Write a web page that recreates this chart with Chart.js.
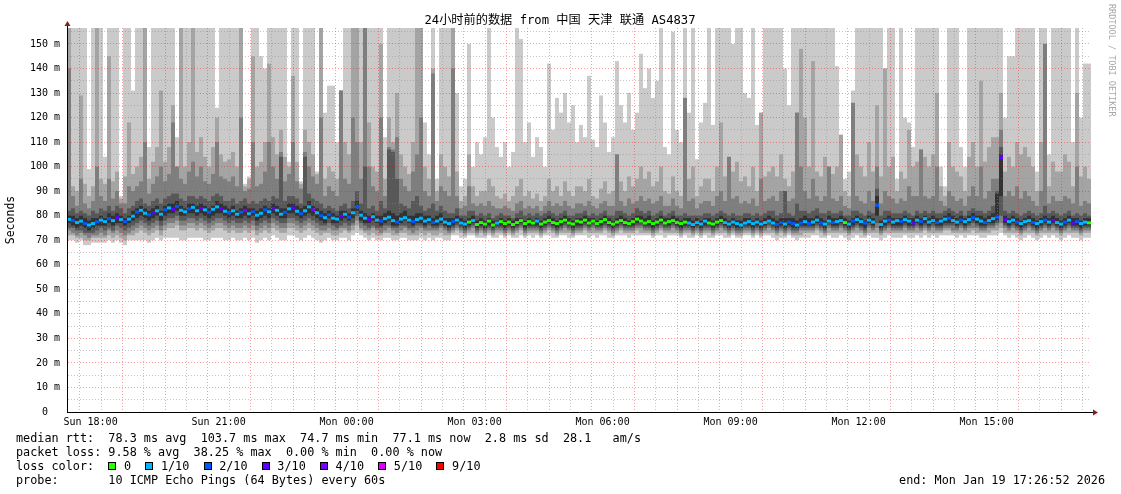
<!DOCTYPE html>
<html>
<head>
<meta charset="utf-8">
<title>SmokePing - 中国 天津 联通 AS4837</title>
<script src="https://cdn.jsdelivr.net/npm/chart.js@4.4.1/dist/chart.umd.min.js"></script>
<style>
  html, body { margin: 0; padding: 0; background: #fff; }
  canvas { display: block; }
</style>
</head>
<body>
<canvas id="smoke" width="1121" height="494"></canvas>
<script>
// ------ Data: 24h window ending Mon 17:26:52, 256 columns of 5.625 min ------
var startHour = 17 + 26 / 60 + 52 / 3600;   // Sun 17:26:52
var spanHours = 24;

// median rtt per column (ms)
var median = [
  78.5, 78.0, 77.2, 77.8, 76.8, 76.2, 76.8, 77.5, 78.2, 77.6, 78.8, 78.0, 79.2, 78.4, 77.6, 78.6, 79.8, 81.5, 82.2, 81.0, 80.4, 81.2, 82.0, 80.6, 82.4, 83.2, 82.6, 83.8, 82.2, 81.6, 82.8, 83.4,
  82.0, 83.0, 82.4, 81.4, 82.6, 83.6, 82.8, 81.8, 81.2, 82.0, 80.6, 81.4, 82.2, 80.8, 81.6, 80.2, 81.0, 82.4, 81.6, 83.0, 82.2, 80.6, 81.4, 82.8, 83.2, 81.8, 80.8, 82.0, 83.6, 82.4, 81.2, 80.0,
  79.2, 80.4, 79.0, 78.6, 79.8, 80.6, 79.4, 81.2, 83.6, 80.2, 79.0, 78.4, 79.6, 78.2, 77.8, 78.8, 79.4, 78.0, 77.4, 78.6, 79.2, 78.2, 77.6, 78.4, 79.0, 77.8, 78.4, 77.2, 77.8, 78.6, 77.4, 76.8,
  77.6, 78.2, 77.0, 76.6, 77.4, 78.0, 76.4, 77.2, 76.6, 77.8, 76.2, 77.0, 77.6, 76.8, 77.4, 76.4, 77.2, 78.0, 76.8, 77.6, 77.0, 77.8, 76.6, 77.4, 78.0, 77.2, 76.8, 77.6, 78.2, 77.0, 76.6, 77.8,
  77.4, 78.2, 77.0, 77.8, 76.8, 77.6, 78.4, 77.2, 76.6, 77.4, 78.0, 77.2, 76.8, 77.6, 78.6, 77.8, 77.0, 77.6, 76.8, 77.4, 78.2, 77.0, 77.6, 78.0, 77.2, 76.8, 77.4, 77.0, 76.4, 77.2, 76.6, 77.8,
  77.0, 76.6, 77.4, 78.0, 77.2, 76.6, 77.4, 76.8, 76.2, 77.0, 77.6, 76.8, 77.4, 76.6, 77.2, 77.8, 77.0, 76.4, 77.2, 76.6, 77.4, 76.8, 76.2, 77.0, 77.6, 76.8, 77.4, 78.2, 77.0, 76.6, 77.8, 77.2,
  77.6, 78.0, 77.2, 76.6, 77.8, 78.4, 77.6, 77.0, 78.2, 77.4, 84.2, 76.4, 77.8, 78.2, 77.4, 78.0, 77.6, 78.4, 77.8, 77.0, 78.2, 77.6, 78.8, 77.4, 78.0, 77.2, 77.8, 78.6, 79.0, 78.0, 77.4, 78.2,
  77.6, 78.4, 79.2, 78.6, 77.8, 77.2, 78.0, 78.8, 79.4, 103.7, 78.4, 77.6, 78.2, 77.4, 76.8, 77.6, 78.0, 77.2, 76.8, 77.6, 78.2, 77.4, 78.0, 77.2, 76.6, 77.4, 78.2, 77.0, 77.6, 76.8, 77.4, 77.1
];

// lost pings out of 10 per column
var loss = [
  1,2,1,1,2,1,1,2, 1,1,2,1,3,1,2,1, 1,2,1,1,2,3,1,1, 2,1,3,2,1,1,2,1,
  1,3,1,2,1,1,3,1, 2,1,1,2,4,1,2,1, 1,2,1,3,1,1,2,1, 3,1,2,1,1,4,1,2,
  1,2,1,1,3,1,2,1, 2,1,1,3,1,1,2,1, 1,1,2,1,1,1,2,1, 1,1,1,2,1,1,1,1,
  2,1,1,1,0,1,0,0, 0,0,0,1,0,0,0,0, 0,0,0,0,0,1,0,0, 0,0,0,0,0,0,0,0,
  0,0,0,0,0,0,0,0, 0,0,0,0,0,0,0,0, 0,0,0,0,0,0,0,0, 0,0,0,1,1,1,1,1,
  0,0,0,0,1,1,1,1, 1,1,1,1,1,1,1,1, 1,2,2,1,2,2,1,2, 1,2,1,1,2,1,1,2,
  1,1,0,1,2,1,1,2, 1,1,2,1,1,2,1,1, 2,1,1,3,1,2,1,1, 1,2,1,1,2,1,1,2,
  1,1,2,1,1,2,1,1, 2,3,3,1,1,2,1,1, 1,2,1,1,2,1,3,1, 1,2,1,3,2,1,1,0
];

// sorted pings per column (ms): ping1 fastest ... ping10 slowest (157 = off the top)
var ping10 = [
  157,157,157,157,157,99,157,157, 157,104,157,157,157,88,157,157, 131,157,157,157,108,157,157,157, 157,157,157,112,157,157,157,157,
  157,157,157,157,157,124,157,157, 157,157,157,157,93,96,157,157, 145,140,157,157,157,157,157,102, 157,157,94,157,157,157,98,157,
  122,133,133,110,131,157,157,157, 157,157,157,157,157,157,157,112, 157,157,157,157,157,157,157,157, 157,118,105,157,95,157,157,157,
  157,130,92,95,150,100,110,105, 112,157,120,108,104,110,100,106, 157,152,110,118,104,112,108,100, 142,115,128,122,130,118,125,110,
  117,112,137,111,108,129,118,106, 112,143,125,118,130,115,122,146, 132,140,128,135,157,108,105,155, 115,110,157,122,157,103,118,126,
  157,117,157,157,157,157,150,157, 157,130,128,157,117,122,157,157, 157,157,157,140,125,157,157,157, 157,157,157,157,157,157,157,157,
  141,113,95,98,131,157,157,157, 157,157,157,157,140,157,157,95, 157,120,118,108,157,157,157,157, 157,157,100,92,157,157,157,108,
  100,157,157,157,157,157,157,157, 157,157,120,145,145,157,157,157, 157,157,98,157,157,105,157,157, 157,157,157,110,157,120,142,142
];
var ping9 = [
  157,92,90,129,93,88,92,157, 95,93,145,94,98,87,96,118, 97,100,104,157,95,102,108,131, 102,108,125,100,157,100,110,157,
  106,112,104,100,108,120,105,102, 103,106,100,157,92,95,145,100, 102,110,142,112,105,115,104,100, 137,102,93,115,110,105,97,157,
  95,100,98,95,131,110,105,157, 157,110,157,118,100,98,150,95, 120,110,130,105,100,97,110,157, 157,100,95,140,90,105,100,96,
  157,98,86,88,105,92,88,90, 90,95,92,88,87,89,86,88, 92,95,88,90,87,89,86,88, 95,90,92,88,94,90,88,92,
  92,90,95,88,87,91,94,89, 90,105,94,90,96,92,95,100, 95,98,92,94,100,90,89,96, 90,88,128,95,100,88,92,95,
  95,90,100,118,96,104,98,102, 94,96,92,100,90,122,96,98, 100,96,105,95,92,98,122,148, 120,100,143,98,96,104,100,97,
  100,113,90,88,126,105,100,96, 110,98,125,96,140,100,104,90, 98,95,115,100,102,107,104,100, 105,130,92,88,110,100,98,96,
  90,104,110,100,135,102,108,112, 112,130,98,104,100,110,105,108, 104,100,90,110,150,92,102,98, 98,105,102,92,130,96,100,95
];
var ping8 = [
  140,88,84,95,85,83,86,100, 88,86,95,87,90,85,85,92, 90,92,94,110,89,93,96,100, 94,97,118,100,95,93,98,102,
  96,100,94,93,97,110,96,95, 94,96,92,120,90,91,110,92, 93,98,110,100,95,106,94,97, 110,94,91,106,100,96,93,120,
  88,92,90,88,131,95,93,120, 110,95,157,100,92,90,120,88, 108,107,112,95,92,90,98,105, 120,90,88,138,86,92,90,88,
  140,88,83,84,92,85,84,85, 84,86,84,83,83,84,83,82, 85,86,83,84,83,84,82,84, 86,84,85,84,86,84,83,85,
  85,84,86,84,83,85,86,84, 84,105,86,84,87,85,86,88, 86,87,85,86,88,84,84,87, 84,83,128,86,87,83,85,86,
  86,84,88,90,86,104,87,88, 85,86,85,87,84,95,86,87, 88,86,90,90,86,87,122,100, 90,87,95,88,86,88,100,87,
  86,88,84,83,126,88,86,85, 90,86,100,85,90,88,87,85, 87,86,92,88,88,107,88,87, 88,100,86,84,90,88,86,87,
  84,88,92,88,100,87,90,95, 95,115,88,90,88,92,87,90, 88,86,84,90,150,85,88,86, 86,88,87,85,100,84,86,85
];
var ping7 = [
  82,83,81,82,81,80,82,81, 83,82,84,82,84,83,81,83, 84,86,87,85,84,86,87,85, 87,88,89,89,87,86,88,88,
  87,88,87,86,88,89,88,86, 86,87,85,86,87,85,86,85, 86,87,86,88,87,104,86,88, 88,87,85,104,89,87,86,85,
  83,84,83,82,84,85,83,86, 90,85,100,83,84,82,86,83, 107,106,95,85,84,83,86,88, 84,82,83,85,82,84,82,81,
  81,83,80,80,82,82,80,81, 80,81,79,80,81,80,80,79, 81,82,80,81,80,81,80,81, 82,81,80,81,82,80,80,81,
  81,82,80,81,80,81,82,80, 80,82,82,81,80,81,83,82, 81,82,80,81,82,80,81,82, 80,80,81,80,80,80,80,81,
  81,80,81,82,81,80,81,80, 80,81,81,80,81,80,81,82, 82,80,81,90,81,80,85,82, 82,81,82,83,81,81,82,81,
  81,82,80,80,82,82,81,80, 82,81,91,80,82,82,81,81, 81,82,81,80,82,81,82,81, 82,81,81,82,83,82,81,82,
  80,82,83,82,82,81,82,84, 90,108,82,81,82,81,80,81, 82,81,80,81,84,81,82,81, 80,81,82,80,81,80,81,80
];
var ping6 = [
  80,80,79,80,79,78,79,79, 80,79,81,80,81,80,79,80, 82,83,84,83,82,83,84,82, 84,85,85,86,84,83,85,85,
  84,85,84,83,84,86,85,84, 83,84,82,83,84,83,83,82, 83,84,83,85,84,83,83,85, 85,84,83,84,86,84,83,82,
  81,82,81,80,82,82,81,83, 86,82,81,80,81,80,80,81, 82,81,80,81,82,80,80,81, 81,80,80,79,80,81,79,79,
  79,80,79,78,79,80,78,79, 78,79,78,78,79,78,79,78, 79,79,78,79,78,79,78,79, 80,79,78,79,80,79,78,79,
  79,80,79,79,78,79,80,79, 78,79,80,79,78,79,80,80, 79,80,78,79,80,79,79,80, 79,78,79,79,78,79,78,79,
  79,78,79,80,79,78,79,78, 78,79,79,78,79,78,79,80, 79,78,79,79,79,79,78,79, 80,79,79,80,79,78,80,79,
  79,80,79,78,79,80,79,78, 80,79,88,78,79,80,79,79, 79,80,79,79,80,79,80,79, 80,79,79,80,81,80,79,80,
  79,80,81,80,80,79,80,81, 89,105,80,79,80,79,78,79, 80,79,78,79,80,79,80,79, 78,79,80,79,79,78,79,79
];
var ping5 = [
  77,76,75,76,75,74,75,76, 76,76,77,76,77,77,76,77, 78,79,80,79,78,79,80,78, 80,81,81,82,80,80,81,81,
  80,81,80,79,80,81,81,80, 79,80,79,79,80,79,80,78, 79,80,79,81,80,79,79,81, 81,80,79,80,81,80,79,78,
  77,79,77,77,78,79,78,79, 82,78,77,77,78,77,76,77, 78,76,76,77,78,77,76,77, 77,76,77,76,76,77,76,75,
  76,77,76,75,76,77,75,76, 75,76,75,76,76,75,76,75, 76,77,75,76,76,76,75,76, 77,76,75,76,77,76,75,76,
  76,77,76,77,76,76,77,76, 75,76,77,76,76,76,77,77, 76,76,75,76,77,76,76,77, 76,75,76,76,75,76,75,76,
  76,75,76,77,76,75,76,75, 75,76,76,75,76,75,76,77, 76,75,76,75,76,75,75,76, 76,76,76,77,76,75,77,76,
  76,77,76,75,76,77,76,75, 77,76,80,75,76,77,76,76, 76,77,76,76,77,76,77,76, 77,76,76,77,77,77,76,77,
  76,77,78,77,76,76,77,77, 78,88,77,76,77,76,75,76, 77,76,75,76,77,76,77,76, 75,76,77,76,76,75,76,76
];
var ping4 = [
  75,75,74,74,73,73,73,74, 75,74,75,74,76,75,74,75, 76,77,78,77,76,77,78,76, 78,79,79,80,78,78,79,79,
  78,79,78,77,78,79,79,78, 77,78,77,77,78,77,78,76, 77,78,77,79,78,77,77,79, 79,78,77,78,79,78,77,76,
  76,77,76,75,76,77,76,77, 80,77,76,75,76,75,75,76, 76,75,75,76,76,75,75,76, 76,75,76,75,75,76,75,74,
  75,76,75,74,75,76,74,75, 74,75,74,75,75,74,75,74, 75,76,74,75,75,75,74,75, 76,75,74,75,76,75,74,75,
  75,76,75,76,75,75,76,75, 74,75,76,75,75,75,76,76, 75,75,74,75,76,75,75,76, 75,74,75,75,74,75,74,75,
  75,74,75,76,75,74,75,74, 74,75,75,74,75,74,75,76, 75,74,75,74,75,74,74,75, 75,75,75,76,75,74,76,75,
  75,76,75,74,75,76,75,74, 76,75,77,74,75,76,75,75, 75,76,75,75,76,75,76,75, 76,75,75,76,76,76,75,76,
  75,76,77,76,75,75,76,76, 77,80,76,75,76,75,74,75, 76,75,74,75,76,75,76,75, 74,75,76,75,75,74,75,75
];
var ping3 = [
  74,73,72,73,72,71,72,72, 73,72,74,73,74,73,72,73, 74,75,76,75,74,75,76,74, 76,77,77,78,76,76,77,77,
  76,77,76,75,76,77,77,76, 75,76,75,75,76,75,76,74, 75,76,75,77,76,75,75,77, 77,76,75,76,77,76,75,74,
  74,75,74,74,75,75,74,76, 78,75,74,74,75,74,73,74, 75,74,73,74,75,74,73,74, 75,74,74,74,74,75,74,73,
  74,75,74,73,74,75,73,74, 73,74,73,74,74,73,74,73, 74,75,73,74,74,74,73,74, 75,74,73,74,75,74,73,74,
  74,75,74,75,74,74,75,74, 73,74,75,74,74,74,75,75, 74,74,73,74,75,74,74,75, 74,73,74,74,73,74,73,74,
  74,73,74,75,74,73,74,73, 73,74,74,73,74,73,74,75, 74,73,74,73,74,73,73,74, 74,74,74,75,74,73,75,74,
  74,75,74,73,74,75,74,73, 75,74,75,73,74,75,74,74, 74,75,74,74,75,74,75,74, 75,74,74,75,75,74,74,75,
  74,75,75,75,74,74,75,75, 76,77,75,74,75,74,73,74, 75,74,73,74,75,74,75,74, 73,74,75,74,74,73,74,74
];
var ping2 = [
  72,72,71,71,70,70,71,71, 71,71,72,71,72,71,70,72, 72,73,74,73,72,73,74,72, 74,75,75,76,74,74,75,75,
  74,75,74,73,74,75,75,74, 73,74,73,73,74,73,74,72, 73,74,73,75,74,73,73,75, 75,74,73,74,75,74,73,72,
  73,73,72,72,73,74,73,74, 76,74,73,72,73,72,72,73, 73,72,72,73,73,72,72,72, 73,72,73,72,72,73,72,72,
  73,74,73,72,73,73,72,73, 72,73,72,73,73,72,73,72, 73,74,72,73,73,73,72,73, 74,73,72,73,73,73,72,73,
  73,74,73,73,73,73,74,73, 72,73,74,73,73,73,74,73, 73,73,72,73,74,73,73,73, 73,72,73,73,72,73,72,73,
  73,72,73,73,73,72,73,72, 72,73,73,72,73,72,73,73, 73,72,73,72,73,72,72,72, 73,73,73,74,73,72,73,73,
  73,73,73,72,73,73,73,72, 73,73,73,72,73,73,73,73, 73,73,73,73,73,73,74,73, 73,73,73,74,74,73,73,73,
  73,73,74,73,73,73,73,74, 74,75,73,73,73,73,72,73, 73,73,72,73,73,73,73,73, 72,73,73,73,73,72,73,73
];
var ping1 = [
  70,70,69,70,68,68,69,69, 69,69,70,69,70,69,68,70, 70,70,70,70,69,70,71,70, 71,71,71,71,70,70,71,71,
  71,71,70,70,71,71,71,70, 70,71,70,70,71,70,71,69, 70,71,70,72,71,70,70,72, 72,71,70,71,72,71,70,69,
  70,71,70,70,71,71,70,72, 73,72,71,70,71,70,70,71, 71,70,70,71,71,70,70,70, 71,70,71,70,71,71,70,70,
  72,72,71,71,72,72,71,71, 71,72,71,71,72,71,72,71, 71,72,71,72,71,72,71,72, 72,71,71,72,72,71,71,72,
  72,72,71,72,71,72,72,71, 71,72,72,72,71,72,72,72, 72,72,71,72,72,71,72,72, 72,71,72,71,71,72,71,72,
  71,71,72,72,71,71,72,71, 71,72,72,71,72,71,72,72, 71,70,71,71,72,71,70,71, 71,71,72,72,71,71,72,71,
  71,72,71,70,71,72,71,71, 72,71,71,70,71,72,71,71, 71,72,71,71,72,71,72,71, 72,71,72,72,72,72,71,72,
  71,72,72,72,71,71,72,72, 72,73,72,71,72,71,70,71, 72,71,70,71,72,71,72,71, 70,71,72,71,71,70,71,71
];

// axis ticks / labels
var yTicks = [0, 5, 10, 15, 20, 25, 30, 35, 40, 45, 50, 55, 60, 65, 70, 75, 80, 85, 90, 95, 100, 105, 110, 115, 120, 125, 130, 135, 140, 145, 150, 155];
var xLabelHours = [18, 21, 24, 27, 30, 33, 36, 39];
var xLabels = ['Sun 18:00', 'Sun 21:00', 'Mon 00:00', 'Mon 03:00', 'Mon 06:00', 'Mon 09:00', 'Mon 12:00', 'Mon 15:00'];

// loss legend
var lossColors = { 0: '#26ff00', 1: '#00b8ff', 2: '#0059ff', 3: '#5e00ff', 4: '#7e00ff', 5: '#dd00ff', 9: '#ff0000' };
var lossLegend = [[0, '0'], [1, '1/10'], [2, '2/10'], [3, '3/10'], [4, '4/10'], [5, '5/10'], [9, '9/10']];

var titleText = '24小时前的数据 from 中国 天津 联通 AS4837';
var statsRtt = 'median rtt:  78.3 ms avg  103.7 ms max  74.7 ms min  77.1 ms now  2.8 ms sd  28.1   am/s';
var statsLoss = 'packet loss: 9.58 % avg  38.25 % max  0.00 % min  0.00 % now';
var probeText = 'probe:       10 ICMP Echo Pings (64 Bytes) every 60s';
var endText = 'end: Mon Jan 19 17:26:52 2026';

// ------ Styles ------
var smokeGrays = ['#cacaca', '#a4a4a4', '#7e7e7e', '#585858', '#323232'];
var MAJOR = 'rgba(255, 0, 0, 0.38)';
var MINOR = 'rgba(140, 140, 140, 0.5)';
var MONO = "'DejaVu Sans Mono', monospace";

var step = spanHours / median.length;
function colTime(i) { return startHour + (i + 0.5) * step; }

function layer(lo, hi) {
    return lo.map(function(v, i) { return { x: colTime(i), y: [v, hi[i]] }; });
}

// outer smoke layer first (highest order = drawn underneath), median on top
var pings = [ping1, ping2, ping3, ping4, ping5, ping6, ping7, ping8, ping9, ping10];
var datasets = [];
for (var k = 0; k < 5; k++) {
    datasets.push({
        data: layer(pings[k], pings[9 - k]),
        backgroundColor: smokeGrays[k],
        order: 10 - k
    });
}
datasets.push({
    data: median.map(function(m, i) { return { x: colTime(i), y: [m - 0.6, m + 0.6] }; }),
    backgroundColor: function(ctx) { return lossColors[loss[ctx.dataIndex]]; },
    order: 0
});
datasets.forEach(function(d) {
    d.borderWidth = 0;
    d.inflateAmount = 0;
    d.grouped = false;
    d.categoryPercentage = 1;
    d.barPercentage = 1;
    d.clip = 0;
});

// ------ Texts, legend and axis arrows around the plot ------
var rrdDecor = {
    id: 'rrdDecor',
    afterDraw: function(chart) {
        var ctx = chart.ctx;
        var a = chart.chartArea;
        ctx.save();

        ctx.fillStyle = '#000';
        ctx.font = "12.2px 'DejaVu Sans Mono', 'Noto Sans CJK SC'";
        ctx.textAlign = 'center';
        ctx.textBaseline = 'middle';
        ctx.fillText(titleText, 560, 20.5);

        // axis arrows
        ctx.strokeStyle = '#000';
        ctx.lineWidth = 1;
        ctx.beginPath();
        ctx.moveTo(a.left + 0.5, a.top);
        ctx.lineTo(a.left + 0.5, a.top - 3);
        ctx.moveTo(a.right, a.bottom + 0.5);
        ctx.lineTo(a.right + 3, a.bottom + 0.5);
        ctx.stroke();
        ctx.fillStyle = '#8e1c1c';
        ctx.beginPath();
        ctx.moveTo(a.left - 2.5, a.top - 2);
        ctx.lineTo(a.left + 3.5, a.top - 2);
        ctx.lineTo(a.left + 0.5, a.top - 7);
        ctx.closePath();
        ctx.fill();
        ctx.beginPath();
        ctx.moveTo(a.right + 2, a.bottom - 2.5);
        ctx.lineTo(a.right + 2, a.bottom + 3.5);
        ctx.lineTo(a.right + 7, a.bottom + 0.5);
        ctx.closePath();
        ctx.fill();

        // legend rows
        ctx.font = '11.8px ' + MONO;
        ctx.textAlign = 'left';
        ctx.textBaseline = 'alphabetic';
        ctx.fillStyle = '#000';
        var cw = ctx.measureText('0').width;
        var rows = [441.5, 455.8, 470, 484.3];
        ctx.fillText(statsRtt, 16, rows[0]);
        ctx.fillText(statsLoss, 16, rows[1]);
        ctx.fillText('loss color:', 16, rows[2]);
        ctx.fillText(probeText, 16, rows[3]);

        var bx = 16 + 13 * cw;
        lossLegend.forEach(function(e) {
            ctx.fillStyle = lossColors[e[0]];
            ctx.fillRect(Math.round(bx), 462, 8, 8);
            ctx.strokeStyle = '#000';
            ctx.strokeRect(Math.round(bx) + 0.5, 462.5, 7, 7);
            var lx = bx + 2.2 * cw;
            ctx.fillStyle = '#000';
            ctx.fillText(e[1], lx, rows[2]);
            bx = lx + (e[1].length + 2) * cw;
        });

        ctx.textAlign = 'right';
        ctx.fillText(endText, 1105, rows[3]);

        // watermark
        ctx.translate(1111.5, 4);
        ctx.rotate(Math.PI / 2);
        ctx.font = '8.5px ' + MONO;
        ctx.fillStyle = '#a8a8a8';
        ctx.textAlign = 'left';
        ctx.textBaseline = 'middle';
        ctx.fillText('RRDTOOL / TOBI OETIKER', 0, 0);

        ctx.restore();
    }
};

Chart.defaults.font.family = MONO;
Chart.defaults.color = '#000';

new Chart(document.getElementById('smoke'), {
    type: 'bar',
    data: { datasets: datasets },
    options: {
        responsive: false,
        animation: false,
        events: [],
        layout: { padding: { top: 28, right: 30, left: 0, bottom: 0 } },
        plugins: {
            legend: { display: false },
            tooltip: { enabled: false },
            title: { display: false }
        },
        scales: {
            x: {
                type: 'linear',
                min: startHour,
                max: startHour + spanHours,
                offset: false,
                afterBuildTicks: function(scale) {
                    var t = [];
                    for (var h = Math.ceil(startHour * 2) / 2; h <= startHour + spanHours; h += 0.5) t.push({ value: h });
                    scale.ticks = t;
                },
                afterFit: function(s) { s.height = 82; },
                ticks: {
                    autoSkip: false,
                    maxRotation: 0,
                    padding: 4,
                    color: '#000',
                    font: { size: 10 },
                    callback: function(v) {
                        var i = xLabelHours.indexOf(v);
                        return i >= 0 ? xLabels[i] : '';
                    }
                },
                grid: {
                    z: 1,
                    drawTicks: false,
                    lineWidth: 1,
                    color: function(ctx) { return ctx.tick && ctx.tick.value % 1 === 0 ? MAJOR : MINOR; }
                },
                border: { z: 2, color: '#000', width: 1, dash: [1, 2] }
            },
            y: {
                min: 0,
                max: 156.5,
                afterBuildTicks: function(scale) {
                    scale.ticks = yTicks.map(function(v) { return { value: v }; });
                },
                afterFit: function(s) { s.width = 67; },
                ticks: {
                    autoSkip: false,
                    padding: 7,
                    color: '#000',
                    font: { size: 10 },
                    callback: function(v) {
                        if (v % 10 !== 0) return '';
                        return v === 0 ? '0  ' : v + ' m';
                    }
                },
                grid: {
                    z: 1,
                    drawTicks: false,
                    lineWidth: 1,
                    color: function(ctx) { return ctx.tick && ctx.tick.value % 10 === 0 ? MAJOR : MINOR; }
                },
                border: { z: 2, color: '#000', width: 1, dash: [1, 2] },
                title: {
                    display: true,
                    text: 'Seconds',
                    color: '#000',
                    font: { size: 11.5 },
                    padding: { top: 4, bottom: 0 }
                }
            }
        }
    },
    plugins: [rrdDecor]
});
</script>
</body>
</html>
